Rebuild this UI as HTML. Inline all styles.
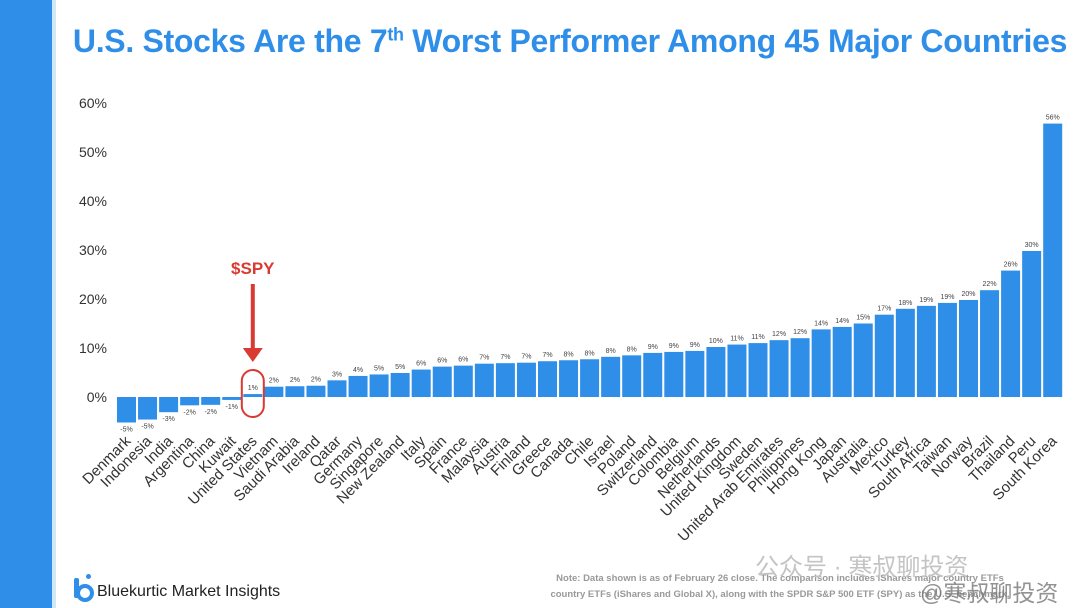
<!DOCTYPE html>
<html><head><meta charset="utf-8"><style>
body{margin:0;width:1080px;height:608px;background:#fff;overflow:hidden;font-family:"Liberation Sans",sans-serif;position:relative}
#side{position:absolute;left:0;top:0;width:52px;height:608px;background:#2f8fe8;border-right:4px solid #cfe6fb}
#title{position:absolute;left:60px;top:23px;width:1020px;text-align:center;font-size:32px;font-weight:bold;color:#2f8fe8;letter-spacing:-0.3px;white-space:nowrap}
#title sup{font-size:18px}
</style></head><body>
<div id="side"></div>
<div id="title">U.S. Stocks Are the 7<sup>th</sup> Worst Performer Among 45 Major Countries</div>
<svg id="chart" width="1080" height="608" style="position:absolute;left:0;top:0"></svg>
<script>
const categories=["Denmark","Indonesia","India","Argentina","China","Kuwait","United States","Vietnam","Saudi Arabia","Ireland","Qatar","Germany","Singapore","New Zealand","Italy","Spain","France","Malaysia","Austria","Finland","Greece","Canada","Chile","Israel","Poland","Switzerland","Colombia","Belgium","Netherlands","United Kingdom","Sweden","United Arab Emirates","Philippines","Hong Kong","Japan","Australia","Mexico","Turkey","South Africa","Taiwan","Norway","Brazil","Thailand","Peru","South Korea"];
const values=[-5.2,-4.6,-3.1,-1.7,-1.6,-0.6,0.6,2.1,2.2,2.3,3.4,4.3,4.6,4.9,5.6,6.2,6.4,6.8,6.9,7.0,7.3,7.5,7.7,8.2,8.5,9.0,9.2,9.4,10.2,10.7,11.0,11.6,12.0,13.8,14.3,15.0,16.8,18.0,18.6,19.2,19.8,21.8,25.8,29.8,55.8];
const labels=["-5%","-5%","-3%","-2%","-2%","-1%","1%","2%","2%","2%","3%","4%","5%","5%","6%","6%","6%","7%","7%","7%","7%","8%","8%","8%","8%","9%","9%","9%","10%","11%","11%","12%","12%","14%","14%","15%","17%","18%","19%","19%","20%","22%","26%","30%","56%"];
const yTicks=[0,10,20,30,40,50,60];
const NS="http://www.w3.org/2000/svg",svg=document.getElementById('chart');
const y0=397,pxPer=4.9,x0=117,pitch=21.05,bw=19;
const Y=v=>y0-v*pxPer, X=i=>x0+i*pitch;
function mk(t,a,txt){const e=document.createElementNS(NS,t);for(const k in a)e.setAttribute(k,a[k]);if(txt!=null)e.textContent=txt;svg.appendChild(e);return e;}
yTicks.forEach(t=>{const e=mk('text',{x:107,y:Y(t)+5,'text-anchor':'end','font-size':14,fill:'#333'},t+'%');

});
values.forEach((v,i)=>{
const r=mk('rect',{x:X(i),y:Math.min(Y(v),y0),width:bw,height:Math.max(Math.abs(Y(v)-y0),1.5),fill:'#2f8fe8'});


const cx=X(i)+bw/2;
const ly=v>=0?Y(v)-4:Y(v)+9;
const l=mk('text',{x:cx,y:ly,'text-anchor':'middle','font-size':7,fill:'#444'},labels[i]);


const tx=cx+5,ty=442;
const c=mk('text',{x:tx,y:ty,'text-anchor':'end','font-size':15,fill:'#333',transform:`rotate(-45 ${tx} ${ty})`},categories[i]);


});
const us=X(6)+bw/2;
const o=mk('rect',{x:us-11,y:370,width:22,height:47,rx:11,fill:'none',stroke:'#d93a32','stroke-width':2});


const s=mk('text',{x:us,y:274,'text-anchor':'middle','font-size':17,'font-weight':'bold',fill:'#d93a32'},'$SPY');


const a=mk('line',{x1:us,y1:284,x2:us,y2:350,stroke:'#d93a32','stroke-width':4});


mk('polygon',{points:`${us-10},348 ${us+10},348 ${us},362`,fill:'#d93a32'});
</script>
<div style="position:absolute;left:72px;top:576px;width:22px;height:24px;">
<div style="position:absolute;left:2px;top:2px;width:5px;height:20px;background:#2f8fe8;border-radius:2px"></div>
<div style="position:absolute;left:4px;top:8px;width:10px;height:10px;border:4px solid #2f8fe8;border-radius:50%"></div>
<div style="position:absolute;left:14px;top:-2px;width:5px;height:5px;background:#2f8fe8;border-radius:50%"></div>
</div>
<div style="position:absolute;left:97px;top:583px;font-size:16px;color:#222">Bluekurtic Market Insights</div>
<div style="position:absolute;left:500px;top:571px;width:560px;text-align:center;font-size:9.5px;color:#999;font-weight:bold;line-height:16px">Note: Data shown is as of February 26 close. The comparison includes iShares major country ETFs<br>country ETFs (iShares and Global X), along with the SPDR S&amp;P 500 ETF (SPY) as the U.S. benchmark.</div>
<div style="position:absolute;left:755px;top:547px;font-size:24px;color:#c4c4c4;font-family:'Liberation Sans','Noto Sans CJK SC',sans-serif">公众号 · 寒叔聊投资</div>
<div style="position:absolute;left:920px;top:574px;font-size:23px;color:#777;opacity:0.8;font-family:'Liberation Sans','Noto Sans CJK SC',sans-serif">@寒叔聊投资</div>
</body></html>
